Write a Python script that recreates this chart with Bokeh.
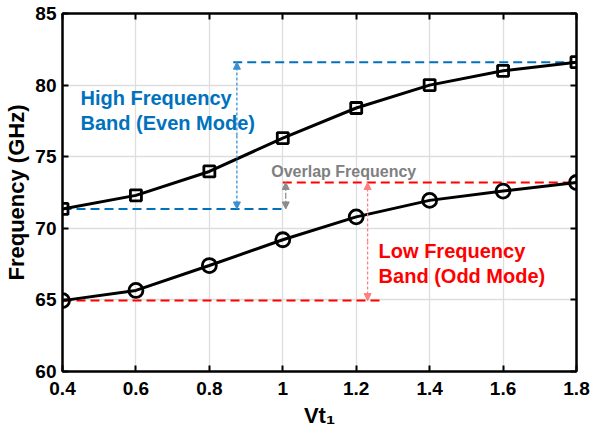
from bokeh.plotting import figure
from bokeh.models import (Arrow, NormalHead, Label, LinearAxis, FixedTicker,
                          Range1d)
from bokeh.embed import file_html
from bokeh.resources import INLINE

# ---- data ----
vt1 = [0.4, 0.6, 0.8, 1.0, 1.2, 1.4, 1.6, 1.8]
even_mode = [71.35, 72.3, 73.97, 76.3, 78.4, 80.0, 81.0, 81.6]
odd_mode = [64.95, 65.66, 67.4, 69.2, 70.8, 71.95, 72.6, 73.2]

x_ticks = [0.4, 0.6, 0.8, 1.0, 1.2, 1.4, 1.6, 1.8]
x_tick_labels = ["0.4", "0.6", "0.8", "1", "1.2", "1.4", "1.6", "1.8"]
y_ticks = [60, 65, 70, 75, 80, 85]

# annotation guide lines (x0, x1, y)
blue_guides = [(0.865, 1.8, 81.6), (0.4, 1.0, 71.35)]
red_guides = [(1.0, 1.8, 73.2), (0.4, 1.27, 64.95)]
# double arrows (x, y_low, y_high)
blue_arrow = (0.875, 71.35, 81.6)
gray_arrow = (1.008, 71.35, 73.2)
red_arrow = (1.231, 64.95, 73.2)

BLUE = "#0072BD"
RED = "#FF0000"
GRAY = "#808080"
FONT = "Liberation Sans"

p = figure(width=591, height=438, x_range=Range1d(0.4, 1.8),
           y_range=Range1d(60, 85), output_backend="svg",
           toolbar_location=None, min_border_left=62, min_border_right=15,
           min_border_top=13, min_border_bottom=67)
p.background_fill_color = "white"
p.border_fill_color = "white"
p.outline_line_color = "black"
p.outline_line_width = 2

def style_axis(ax, ticks, labels=True):
    ax.ticker = FixedTicker(ticks=ticks)
    ax.axis_line_width = 2
    ax.axis_line_color = "black"
    ax.major_tick_in = 6
    ax.major_tick_out = 0
    ax.major_tick_line_width = 2
    ax.minor_tick_line_color = None
    ax.major_label_text_font = FONT
    ax.major_label_text_font_style = "bold"
    ax.major_label_text_font_size = "19px"
    ax.major_label_text_color = "black"
    ax.axis_label_text_font = FONT
    ax.axis_label_text_font_style = "bold"
    ax.axis_label_text_font_size = "22px"
    ax.axis_label_text_color = "black"
    if not labels:
        ax.major_label_text_font_size = "0px"
        ax.major_label_text_color = None

style_axis(p.xaxis[0], x_ticks)
p.xaxis[0].major_label_overrides = {t: l for t, l in zip(x_ticks, x_tick_labels)}
p.xaxis[0].major_label_standoff = 10
p.xaxis[0].axis_label = "Vt\u2081"
p.xaxis[0].axis_label_standoff = 5
style_axis(p.yaxis[0], y_ticks)
p.yaxis[0].major_label_standoff = 6
p.yaxis[0].axis_label = "Frequency (GHz)"
p.yaxis[0].axis_label_standoff = 3

top = LinearAxis()
style_axis(top, x_ticks, labels=False)
p.add_layout(top, "above")
right = LinearAxis()
style_axis(right, y_ticks, labels=False)
p.add_layout(right, "right")

p.xgrid.ticker = FixedTicker(ticks=x_ticks)
p.ygrid.ticker = FixedTicker(ticks=y_ticks)
p.grid.grid_line_color = "#DEDEDE"
p.grid.grid_line_width = 1.3

# guide dashed lines
for x0, x1, y in blue_guides:
    p.line([x0, x1], [y, y], line_color=BLUE, line_width=2, line_dash="9 5")
for x0, x1, y in red_guides:
    p.line([x0, x1], [y, y], line_color=RED, line_width=2, line_dash="9 5")

# curves
p.line(vt1, even_mode, line_color="black", line_width=3)
p.scatter(vt1, even_mode, marker="square", size=11, line_color="black",
          line_width=2.8, fill_color=None)
p.line(vt1, odd_mode, line_color="black", line_width=3)
p.scatter(vt1, odd_mode, marker="circle", size=14, line_color="black",
          line_width=2.8, fill_color=None)

# double arrows
def dbl_arrow(spec, color):
    x, y0, y1 = spec
    for yb in (y0, y1):
        p.add_layout(Arrow(end=NormalHead(size=7, fill_color=color,
                                          line_color=color, line_width=1),
                           x_start=x, y_start=(y0 + y1) / 2, x_end=x, y_end=yb,
                           line_color=color, line_width=1.3,
                           line_dash="3 2"))

dbl_arrow(blue_arrow, "#3C8FD0")
dbl_arrow(gray_arrow, "#8C8C8C")
dbl_arrow(red_arrow, "#FF7F7F")

def lab(x, y, text, color, size, align="left"):
    p.add_layout(Label(x=x, y=y, text=text, text_color=color,
                       text_font=FONT, text_font_style="bold",
                       text_font_size=size, text_align=align,
                       text_baseline="middle"))

lab(0.449, 79.13, "High Frequency", BLUE, "20px")
lab(0.449, 77.32, "Band (Even Mode)", BLUE, "20px")
lab(1.261, 68.41, "Low Frequency", RED, "20px")
lab(1.261, 66.70, "Band (Odd Mode)", RED, "20px")
lab(1.166, 74.0, "Overlap Frequency", GRAY, "16px", align="center")

open("out.html", "w").write(file_html(p, INLINE))
